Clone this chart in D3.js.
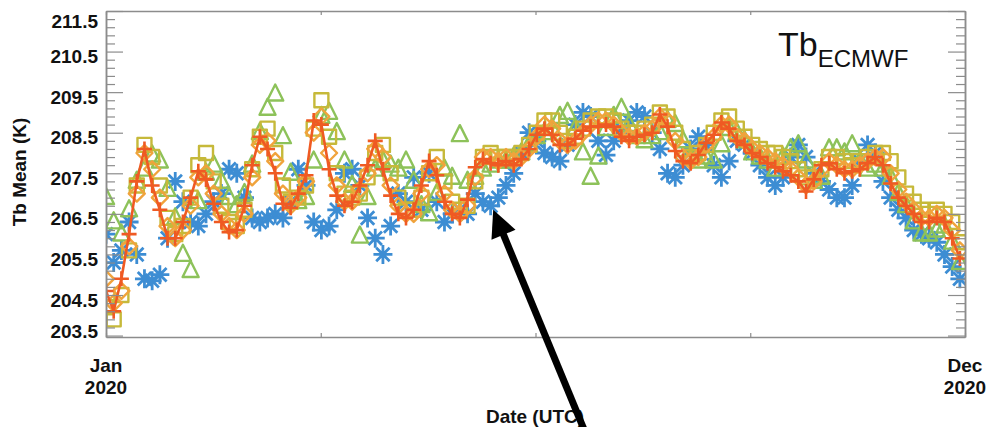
<!DOCTYPE html>
<html>
<head>
<meta charset="utf-8">
<script src="https://cdnjs.cloudflare.com/ajax/libs/d3/7.8.5/d3.min.js"></script>
<style>
  body { margin: 0; background: #fff; }
  svg { display: block; font-family: "Liberation Sans", Arial, sans-serif; }
</style>
</head>
<body>
<svg id="chart" width="989" height="427"></svg>
<script>
/* global d3 */
(function() {
    'use strict';

    // --- data (one value every 3 days from 1 Jan 2020) ---
    var START = new Date(2020, 0, 1),
        END = new Date(2020, 11, 1),
        STEP_DAYS = 3;

    var yTickValues = [203.5, 204.5, 205.5, 206.5, 207.5, 208.5, 209.5, 210.5, 211.5];
    var xTickLabels = [['Jan', '2020'], ['Dec', '2020']];

    var tbBlue = [206.0, 205.3, 205.6, 206.3, 205.5, 204.9, 204.85, 205.0, 205.9, 207.3,
        206.8, 206.3, 206.2, 206.5, 206.8, 207.0, 207.6, 207.5, 206.9, 206.4,
        206.3, 206.4, 206.5, 206.4, 206.8, 207.6, 207.2, 206.3, 206.1, 206.2,
        206.6, 207.5, 207.6, 207.2, 206.4, 205.9, 205.5, 206.2, 207.0, 206.8,
        207.4, 206.6, 207.5, 206.8, 206.3, 206.5, 206.6, 206.5, 207.0, 206.8,
        206.7, 206.9, 207.2, 207.5, 208.0, 208.5, 208.3, 208.0, 207.9, 207.8,
        208.2, 208.7, 209.0, 208.9, 208.3, 207.95, 208.3, 208.6, 208.8, 209.0,
        208.9, 208.5, 208.1, 207.5, 207.4, 207.7, 208.1, 208.4, 208.2, 207.7,
        207.4, 207.8, 208.3, 208.2, 208.0, 207.7, 207.4, 207.2, 207.4, 207.9,
        208.2, 207.9, 207.5, 207.3, 207.1, 206.9, 206.9, 207.2, 207.8, 208.2,
        208.0, 207.3, 206.9, 206.6, 206.4, 206.1, 206.0, 205.9, 205.8, 205.5,
        205.2, 204.9];

    var tbGreen = [206.9, 206.3, 206.0, 206.6, 207.3, 207.6, 207.95, 207.8, 207.1, 206.4,
        205.5, 205.1, 206.8, 207.5, 207.7, 207.3, 206.9, 206.7, 207.0, 207.7,
        208.5, 209.1, 209.45, 208.4, 207.5, 206.8, 206.9, 207.8, 208.9, 209.0,
        208.5, 207.8, 207.2, 205.95, 206.9, 207.6, 207.8, 207.7, 207.6, 207.8,
        207.3, 206.7, 206.5, 207.0, 207.6, 207.4, 208.45, 207.3, 207.4, 207.6,
        207.7, 207.8, 207.8, 207.9, 208.0, 208.2, 208.4, 208.5, 208.6, 208.9,
        209.0, 208.6, 208.0, 207.4, 207.9, 208.6, 208.9, 209.1, 208.7, 208.4,
        208.3, 208.4, 208.5, 208.8, 208.7, 208.3, 207.9, 207.8, 207.9, 207.8,
        208.2, 208.6, 208.5, 208.3, 208.0, 207.9, 207.8, 207.6, 207.9, 208.1,
        208.2, 207.8, 207.3, 207.4, 208.1, 208.1, 208.0, 208.2, 207.8, 207.6,
        207.7, 207.6, 207.4, 207.0, 206.7, 206.3, 206.0, 206.0, 206.1, 206.2,
        205.8, 205.3];

    var tbOlive = [204.2, 203.9, 204.5, 205.6, 207.2, 208.2, 207.9, 207.2, 206.4, 206.0,
        206.2, 206.9, 207.7, 208.0, 207.3, 206.7, 206.3, 206.2, 206.6, 207.6,
        208.4, 208.6, 208.0, 207.2, 206.8, 206.9, 207.2, 208.6, 209.3, 208.4,
        207.5, 207.0, 206.9, 207.0, 207.4, 208.0, 208.2, 207.5, 206.9, 206.6,
        206.6, 206.9, 207.5, 207.9, 207.3, 206.8, 206.6, 206.7, 207.3, 207.9,
        208.0, 207.9, 207.9, 207.9, 208.0, 208.2, 208.5, 208.8, 208.8, 208.5,
        208.3, 208.4, 208.6, 208.8, 208.9, 208.9, 208.8, 208.6, 208.5, 208.5,
        208.6, 208.7, 209.0, 208.9, 208.5, 208.1, 207.9, 208.0, 208.2, 208.5,
        208.8, 208.9, 208.6, 208.4, 208.2, 208.1, 208.0, 208.0, 207.9, 207.8,
        207.6, 207.4, 207.4, 207.6, 207.9, 207.9, 207.8, 207.7, 207.8, 207.9,
        208.0, 208.0, 207.8, 207.4, 207.0, 206.8, 206.6, 206.5, 206.6, 206.5,
        206.3, 205.8];

    var tbOrange = [204.9, 204.3, 204.6, 205.7, 207.0, 208.0, 207.6, 206.9, 206.2, 205.9,
        206.1, 206.7, 207.4, 207.5, 207.0, 206.5, 206.2, 206.1, 206.5, 207.4,
        208.2, 208.3, 207.8, 207.0, 206.7, 206.9, 207.3, 208.5, 208.9, 208.0,
        207.2, 206.8, 206.8, 207.1, 207.5, 208.1, 207.9, 207.2, 206.7, 206.5,
        206.5, 207.0, 207.6, 207.7, 207.0, 206.6, 206.5, 206.7, 207.4, 207.9,
        207.9, 207.8, 207.9, 207.8, 207.9, 208.1, 208.4, 208.7, 208.6, 208.3,
        208.2, 208.3, 208.5, 208.7, 208.8, 208.8, 208.7, 208.5, 208.4, 208.4,
        208.5, 208.6, 208.9, 208.8, 208.3, 207.9, 207.8, 207.9, 208.2, 208.4,
        208.7, 208.7, 208.4, 208.3, 208.1, 208.0, 207.9, 207.8, 207.7, 207.6,
        207.4, 207.2, 207.3, 207.6, 207.8, 207.7, 207.6, 207.6, 207.7, 207.8,
        207.9, 207.9, 207.5, 207.1, 206.8, 206.6, 206.4, 206.4, 206.5, 206.4,
        206.1, 205.6];

    var tbRed = [204.6, 204.1, 204.9, 206.0, 207.3, 208.1, 207.2, 206.6, 205.9, 205.9,
        206.3, 206.9, 207.55, 207.35, 206.75, 206.3, 206.05, 206.1, 206.7, 207.7,
        208.4, 208.1, 207.5, 206.75, 206.65, 207.0, 207.45, 208.8, 208.7, 207.6,
        206.95, 206.7, 206.8, 207.2, 207.7, 208.3, 207.6, 206.95, 206.5, 206.4,
        206.6, 207.2, 207.8, 207.45, 206.8, 206.5, 206.4, 206.85, 207.65, 207.85,
        207.75, 207.7, 207.8, 207.7, 207.85, 208.1, 208.45, 208.6, 208.45, 208.2,
        208.2, 208.35, 208.55, 208.65, 208.65, 208.7, 208.65, 208.4, 208.3, 208.4,
        208.45, 208.5, 208.95, 208.65, 208.05, 207.8, 207.75, 207.95, 208.25, 208.45,
        208.75, 208.6, 208.3, 208.2, 208.0, 207.9, 207.75, 207.65, 207.55, 207.45,
        207.3, 207.05, 207.35, 207.7, 207.75, 207.6, 207.5, 207.55, 207.6, 207.75,
        207.9, 207.7, 207.25, 206.9, 206.7, 206.5, 206.3, 206.3, 206.4, 206.3,
        205.9, 205.4];

    // annotation arrow points at this (date, Tb)
    var arrowTarget = { date: new Date(2020, 4, 31), value: 206.6 };

    // --- layout ---
    var svg = d3.select('#chart'),
        X0 = 106, X1 = 965, Y0 = 337, Y1 = 11,
        AXIS_COL = '#8c8c8c';

    var x = d3.scaleTime().domain([START, END]).range([X0, X1]),
        y = d3.scaleLinear().domain([203.465, 211.5]).range([Y0, Y1]);

    var toPoints = function(vals) {
        return vals.map(function(v, i) {
            return { date: d3.timeDay.offset(START, i * STEP_DAYS), v: v };
        });
    };

    // marker shapes (size = half width in px)
    var symAsterisk = { draw: function(ctx, r) {
            for (var k = 0; k < 4; k++) {
                var a = k * Math.PI / 4;
                ctx.moveTo(-r * Math.cos(a), -r * Math.sin(a));
                ctx.lineTo(r * Math.cos(a), r * Math.sin(a));
            }
        } },
        symTriangle = { draw: function(ctx, r) {
            ctx.moveTo(0, -r * 1.2);
            ctx.lineTo(r, r * 0.8);
            ctx.lineTo(-r, r * 0.8);
            ctx.closePath();
        } },
        symSquare = { draw: function(ctx, r) {
            ctx.rect(-r, -r, 2 * r, 2 * r);
        } },
        symDiamond = { draw: function(ctx, r) {
            ctx.moveTo(0, -r);
            ctx.lineTo(r, 0);
            ctx.lineTo(0, r);
            ctx.lineTo(-r, 0);
            ctx.closePath();
        } },
        symPlus = { draw: function(ctx, r) {
            ctx.moveTo(-r, 0); ctx.lineTo(r, 0);
            ctx.moveTo(0, -r); ctx.lineTo(0, r);
        } };

    var series = [
        { values: tbBlue, color: '#3d8dd3', sym: symAsterisk, r: 9.5, w: 2.8 },
        { values: tbGreen, color: '#8dc25a', sym: symTriangle, r: 8, w: 2.4 },
        { values: tbOlive, color: '#c6b93a', sym: symSquare, r: 7, w: 2.4 },
        { values: tbOrange, color: '#f0a33c', sym: symDiamond, r: 8, w: 2.4 },
        { values: tbRed, color: '#ef5a23', sym: symPlus, r: 7.5, w: 2.6, line: true }
    ];

    svg.append('clipPath').attr('id', 'plot-clip')
        .append('rect').attr('x', X0).attr('y', Y1).attr('width', X1 - X0).attr('height', Y0 - Y1);

    var plot = svg.append('g').attr('clip-path', 'url(#plot-clip)');

    series.forEach(function(s) {
        var pts = toPoints(s.values),
            g = plot.append('g').attr('fill', 'none').attr('stroke', s.color)
                .attr('stroke-width', s.w).attr('stroke-linejoin', 'round');
        if (s.line) {
            g.append('path').datum(pts)
                .attr('d', d3.line().x(function(d) { return x(d.date); }).y(function(d) { return y(d.v); }));
        }
        g.selectAll('path.mk').data(pts).enter().append('path').attr('class', 'mk')
            .attr('transform', function(d) { return 'translate(' + x(d.date) + ',' + y(d.v) + ')'; })
            .attr('d', d3.symbol().type(s.sym).size(s.r));
    });

    // --- axes ---
    var minorY = d3.range(203.5, 211.5, 0.2).filter(function(v) {
        return Math.abs((v - 203.5) % 1) > 0.05 && Math.abs((v - 203.5) % 1) < 0.95;
    });
    var xTickValues = d3.range(5).map(function(k) { return x.invert(X0 + k * (X1 - X0) / 4); });

    var styleAxis = function(g) {
        g.select('.domain').attr('stroke', AXIS_COL).attr('stroke-width', 1.5);
        g.selectAll('.tick line').attr('stroke', AXIS_COL).attr('stroke-width', 1.2);
    };

    var yLeft = svg.append('g').attr('transform', 'translate(' + X0 + ',0)')
        .call(d3.axisLeft(y).tickValues(yTickValues).tickSizeInner(-17).tickSizeOuter(0)
            .tickPadding(8).tickFormat(d3.format('.1f')))
        .call(styleAxis);
    yLeft.selectAll('text')
        .attr('font-size', 19).attr('font-weight', 'bold').attr('fill', '#111')
        .attr('font-family', '"Liberation Sans", Arial, sans-serif')
        .attr('dy', null)
        .attr('y', function(d) {
            var c = Math.min(Math.max(y(d) + 4, 20.5), 330.5);
            return c - y(d) + 7;
        });

    svg.append('g').attr('transform', 'translate(' + X0 + ',0)')
        .call(d3.axisLeft(y).tickValues(minorY).tickSizeInner(-9).tickSizeOuter(0).tickFormat(''))
        .call(styleAxis);

    svg.append('g').attr('transform', 'translate(' + X1 + ',0)')
        .call(d3.axisRight(y).tickValues(yTickValues).tickSizeInner(-17).tickSizeOuter(0).tickFormat(''))
        .call(styleAxis);
    svg.append('g').attr('transform', 'translate(' + X1 + ',0)')
        .call(d3.axisRight(y).tickValues(minorY).tickSizeInner(-9).tickSizeOuter(0).tickFormat(''))
        .call(styleAxis);

    svg.append('g').attr('transform', 'translate(0,' + Y1 + ')')
        .call(d3.axisTop(x).tickValues(xTickValues).tickSizeInner(-4).tickSizeOuter(0).tickFormat(''))
        .call(styleAxis);

    var xAxis = svg.append('g').attr('transform', 'translate(0,' + Y0 + ')')
        .call(d3.axisBottom(x).tickValues(xTickValues).tickSizeInner(-4).tickSizeOuter(0).tickFormat(''))
        .call(styleAxis);

    [xTickValues[0], xTickValues[4]].forEach(function(d, i) {
        var t = xAxis.append('text').attr('text-anchor', 'middle')
            .attr('font-size', 19).attr('font-weight', 'bold').attr('fill', '#111');
        t.append('tspan').attr('x', x(d)).attr('y', 35).text(xTickLabels[i][0]);
        t.append('tspan').attr('x', x(d)).attr('y', 57).text(xTickLabels[i][1]);
    });

    // --- titles ---
    svg.append('text').attr('x', 535).attr('y', 423).attr('text-anchor', 'middle')
        .attr('font-size', 19).attr('font-weight', 'bold').attr('fill', '#111').text('Date (UTC)');

    svg.append('text').attr('transform', 'translate(26,172) rotate(-90)').attr('text-anchor', 'middle')
        .attr('font-size', 19).attr('font-weight', 'bold').attr('fill', '#111').text('Tb Mean (K)');

    var lbl = svg.append('text').attr('x', 778).attr('y', 56).attr('font-size', 34).attr('fill', '#111');
    lbl.append('tspan').text('Tb');
    lbl.append('tspan').attr('font-size', 24).attr('dy', 11).text('ECMWF');

    // --- annotation arrow ---
    var tip = [x(arrowTarget.date), y(arrowTarget.value)],
        ux = 0.382, uy = 0.924, headLen = 27, headHalf = 13,
        base = [tip[0] + ux * headLen, tip[1] + uy * headLen];

    svg.append('line')
        .attr('x1', base[0] - ux * 2).attr('y1', base[1] - uy * 2)
        .attr('x2', tip[0] + ux * 250).attr('y2', tip[1] + uy * 250)
        .attr('stroke', '#000').attr('stroke-width', 7);
    svg.append('path')
        .attr('d', 'M' + tip[0] + ',' + tip[1] +
            'L' + (base[0] - uy * headHalf) + ',' + (base[1] + ux * headHalf) +
            'L' + (base[0] + uy * headHalf) + ',' + (base[1] - ux * headHalf) + 'Z')
        .attr('fill', '#000');
}());
</script>
</body>
</html>
